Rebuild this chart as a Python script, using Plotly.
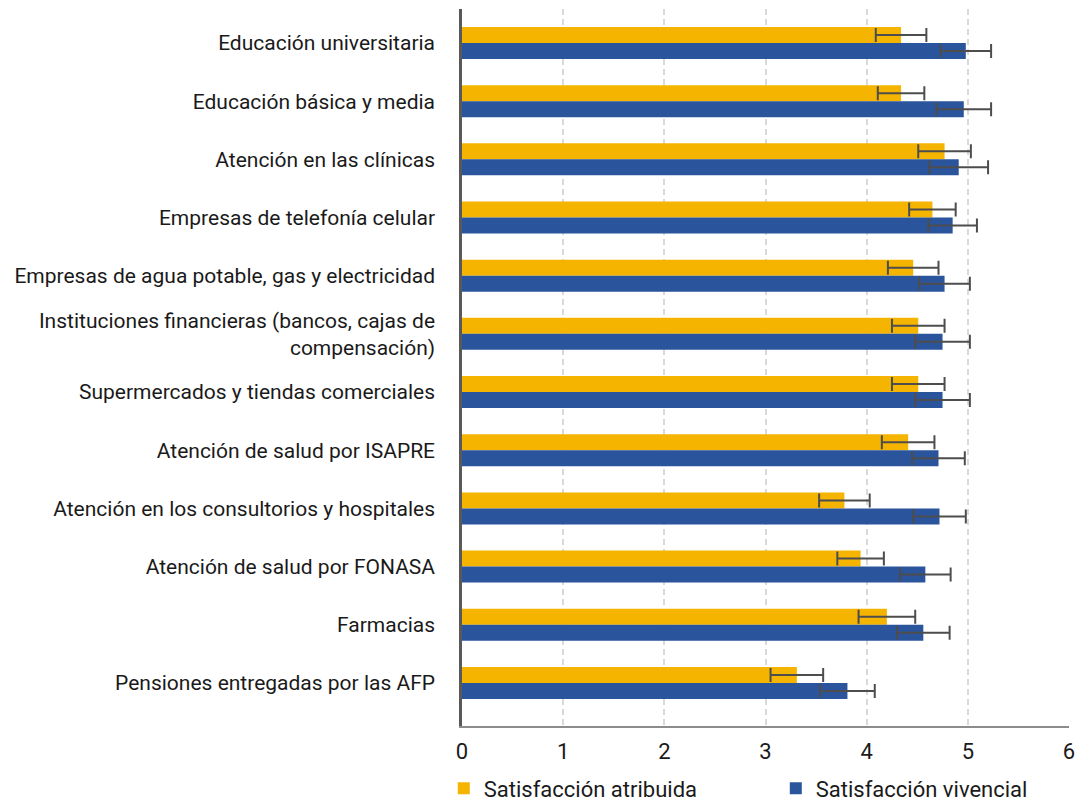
import plotly.graph_objects as go

categories = [
    "Educación universitaria",
    "Educación básica y media",
    "Atención en las clínicas",
    "Empresas de telefonía celular",
    "Empresas de agua potable, gas y electricidad",
    "Instituciones financieras (bancos, cajas de<br>compensación)",
    "Supermercados y tiendas comerciales",
    "Atención de salud por ISAPRE",
    "Atención en los consultorios y hospitales",
    "Atención de salud por FONASA",
    "Farmacias",
    "Pensiones entregadas por las AFP",
]
atribuida = [4.34, 4.34, 4.77, 4.65, 4.46, 4.51, 4.51, 4.41, 3.78, 3.94, 4.20, 3.31]
atribuida_err = [0.25, 0.23, 0.26, 0.23, 0.25, 0.26, 0.26, 0.26, 0.25, 0.23, 0.28, 0.26]
vivencial = [4.98, 4.96, 4.91, 4.85, 4.77, 4.75, 4.75, 4.71, 4.72, 4.58, 4.56, 3.81]
vivencial_err = [0.25, 0.27, 0.29, 0.24, 0.25, 0.27, 0.27, 0.26, 0.26, 0.25, 0.26, 0.27]
x_ticks = [0, 1, 2, 3, 4, 5, 6]

FONT = "Roboto"
ERR_COLOR = "#4d4d4d"

fig = go.Figure()
fig.add_trace(go.Bar(
    y=categories, x=atribuida, orientation="h", name="Satisfacción atribuida",
    marker=dict(color="#F4B400", line=dict(width=0)),
    error_x=dict(type="data", array=atribuida_err, color=ERR_COLOR, thickness=2, width=7),
))
fig.add_trace(go.Bar(
    y=categories, x=vivencial, orientation="h", name="Satisfacción vivencial",
    marker=dict(color="#2A559C", line=dict(width=0)),
    error_x=dict(type="data", array=vivencial_err, color=ERR_COLOR, thickness=2, width=7),
))

fig.update_layout(
    width=1085, height=803,
    margin=dict(l=462, r=16, t=9, b=77, autoexpand=False),
    paper_bgcolor="white", plot_bgcolor="white",
    barmode="group", bargap=0.45, bargroupgap=0,
    font=dict(family=FONT, size=21, color="#1a1a1a"),
    showlegend=True,
    legend=dict(
        orientation="h", x=-0.03, xanchor="left", y=-0.087, yanchor="middle",
        font=dict(family=FONT, size=22, color="#1a1a1a"),
        entrywidth=287, entrywidthmode="pixels",
        bgcolor="rgba(0,0,0,0)", traceorder="normal",
    ),
)
fig.update_xaxes(
    range=[0, 6], tickvals=x_ticks, ticktext=[str(v) for v in x_ticks],
    showgrid=True, gridcolor="#d9d9d9", gridwidth=2, griddash="6px,4px",
    zeroline=False, showline=True, linecolor="#8c8c8c", linewidth=2,
    ticks="", ticklabelstandoff=5,
    tickfont=dict(family=FONT, size=22, color="#1a1a1a"),
    automargin=False, fixedrange=True,
)
fig.update_yaxes(
    type="category", categoryorder="array", categoryarray=categories,
    range=[11.74, -0.584],
    showgrid=False, zeroline=False, showline=True, linecolor="#595959", linewidth=2.5,
    ticks="", ticklabelstandoff=20,
    tickfont=dict(family=FONT, size=21, color="#1a1a1a"),
    automargin=False, fixedrange=True,
)

fig.write_html(
    "out.html",
    config={"displayModeBar": False, "staticPlot": False},
    post_script="document.body.style.margin='0';document.body.style.padding='0';",
)
